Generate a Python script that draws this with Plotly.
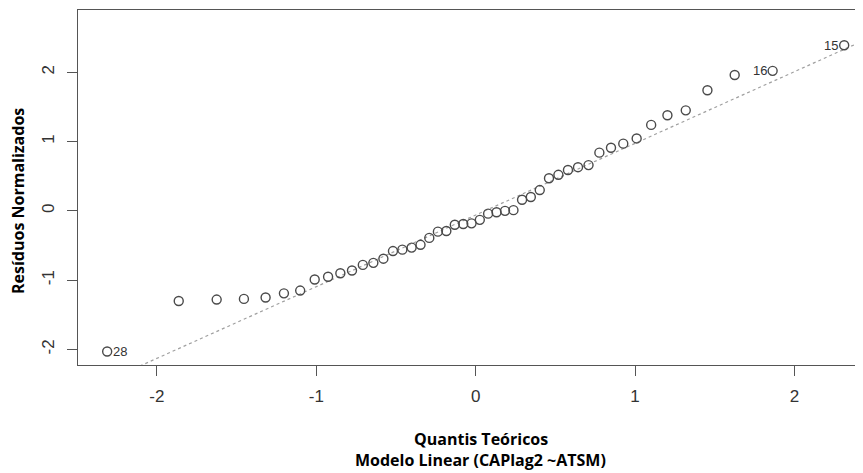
import numpy as np
import plotly.graph_objects as go

# Theoretical normal quantiles (n = 48) read along the x axis
theoretical_quantiles = [
    -2.312, -1.863, -1.625, -1.454, -1.318, -1.203, -1.101, -1.010,
    -0.926, -0.849, -0.776, -0.708, -0.642, -0.579, -0.519, -0.460,
    -0.402, -0.346, -0.291, -0.237, -0.184, -0.131, -0.078, -0.026,
    0.026, 0.078, 0.131, 0.184, 0.237, 0.291, 0.346, 0.402,
    0.460, 0.519, 0.579, 0.642, 0.708, 0.776, 0.849, 0.926,
    1.010, 1.101, 1.203, 1.318, 1.454, 1.625, 1.863, 2.312,
]

# Standardized residuals (sorted) read along the y axis
standardized_residuals = [
    -2.03, -1.30, -1.28, -1.27, -1.25, -1.19, -1.15, -0.99,
    -0.95, -0.90, -0.86, -0.78, -0.75, -0.69, -0.58, -0.56,
    -0.53, -0.49, -0.39, -0.30, -0.29, -0.20, -0.19, -0.18,
    -0.13, -0.04, -0.02, 0.00, 0.01, 0.16, 0.20, 0.30,
    0.47, 0.52, 0.59, 0.63, 0.66, 0.84, 0.91, 0.97,
    1.045, 1.24, 1.38, 1.45, 1.74, 1.96, 2.02, 2.39,
]

# Labelled observations
label_index = [0, 46, 47]
label_text = ["28", "16", "15"]
label_side = ["right", "left", "left"]

x_ticks = [-2, -1, 0, 1, 2]
x_tick_labels = ["-2", "-1", "0", "1", "2"]
y_ticks = [-2, -1, 0, 1, 2]
y_tick_labels = ["-2", "-1", "0", "1", "2"]

x_title = "Quantis Teóricos"
subtitle = "Modelo Linear (CAPlag2 ~ATSM)"
y_title = "Resíduos Normalizados"

# qqline: line through the first and third quartiles
q_theo = np.array([-0.6745, 0.6745])
q_data = np.quantile(np.array(standardized_residuals), [0.25, 0.75])
slope = (q_data[1] - q_data[0]) / (q_theo[1] - q_theo[0])
intercept = q_data[0] - slope * q_theo[0]

x_range = [-2.495, 2.43]
y_range = [-2.224, 2.898]
line_x = np.array([-3.0, 3.0])
line_y = intercept + slope * line_x

fig = go.Figure()
fig.add_trace(go.Scatter(
    x=line_x, y=line_y, mode="lines",
    line=dict(color="#a0a0a0", width=1.2, dash="dot"),
    hoverinfo="skip", showlegend=False,
))
fig.add_trace(go.Scatter(
    x=theoretical_quantiles, y=standardized_residuals, mode="markers",
    marker=dict(symbol="circle-open", size=9, color="#4a4a4a",
                line=dict(width=1.4, color="#4a4a4a")),
    showlegend=False,
))

for idx, txt, side in zip(label_index, label_text, label_side):
    fig.add_annotation(
        x=theoretical_quantiles[idx], y=standardized_residuals[idx],
        text=txt, showarrow=False,
        xanchor="left" if side == "right" else "right",
        xshift=4 if side == "right" else -4,
        font=dict(family="Liberation Sans, Arial", size=13, color="#333333"),
    )

title_font = dict(family="Open Sans", size=16, color="#000000")
fig.add_annotation(
    xref="paper", yref="paper", x=0.513, y=-0.2085,
    text="<b>%s</b>" % x_title, showarrow=False,
    xanchor="center", yanchor="middle", font=title_font,
)
fig.add_annotation(
    xref="paper", yref="paper", x=0.513, y=-0.2676,
    text="<b>%s</b>" % subtitle, showarrow=False,
    xanchor="center", yanchor="middle", font=title_font,
)
fig.add_annotation(
    xref="paper", yref="paper", x=-0.0764, y=0.462,
    text="<b>%s</b>" % y_title, showarrow=False, textangle=-90,
    xanchor="center", yanchor="middle", font=title_font,
)

axis_common = dict(
    showgrid=False, zeroline=False, showline=True,
    linecolor="#555555", linewidth=1.3,
    ticks="outside", ticklen=10, tickwidth=1.2, tickcolor="#555555",
    tickfont=dict(family="Liberation Sans, Arial", size=17, color="#333333"),
)

fig.update_xaxes(range=x_range, tickvals=x_ticks, ticktext=x_tick_labels,
                 mirror=True, ticklabelstandoff=5, **axis_common)
fig.update_yaxes(range=y_range, tickvals=y_ticks, ticktext=y_tick_labels,
                 tickangle=-90, ticklabelstandoff=6, **axis_common)

# page body has an 8px margin, so the figure is sized to fill the rest
fig.update_layout(
    width=855, height=465,
    margin=dict(l=70, r=0, t=2, b=108),
    plot_bgcolor="white", paper_bgcolor="white",
)

fig.write_html("out.html")
